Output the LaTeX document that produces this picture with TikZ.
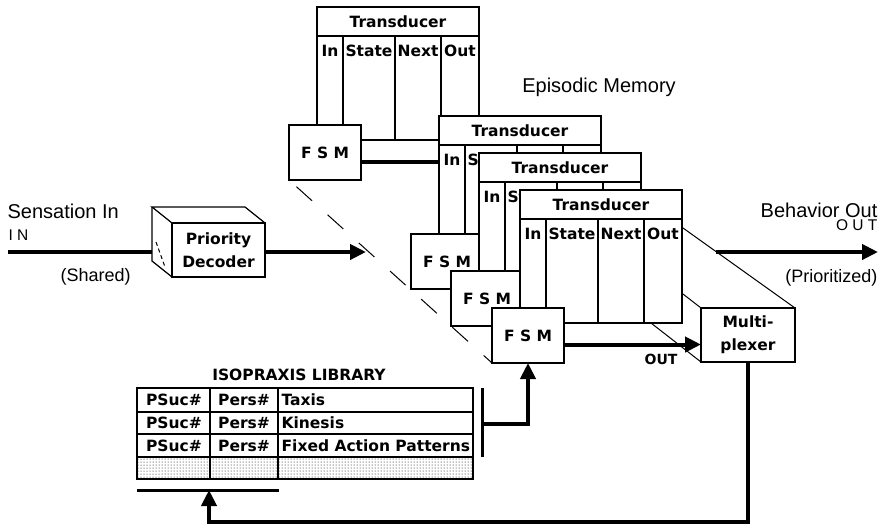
\documentclass[tikz,border=0pt]{standalone}
\usepackage{fontspec}
\setmainfont{DejaVu Sans}
\newfontfamily\plainfont{Liberation Sans}
\usetikzlibrary{positioning,arrows.meta,patterns}

\tikzset{
    box/.style={draw, fill=white, inner sep=0pt, outer sep=0pt},
    bold/.style={font=\bfseries\fontsize{15.5}{23}\selectfont, inner sep=0pt},
    plain/.style={font=\plainfont\fontsize{20}{22}\selectfont, inner sep=0pt},
    mid/.style={font=\plainfont\fontsize{18}{20}\selectfont, inner sep=0pt},
    spaced/.style={font=\plainfont\fontsize{15.5}{18}\selectfont, inner sep=0pt},
    bar/.style={line width=4pt},
    flow/.style={line width=4pt, -{Triangle[length=16pt,width=15pt]}},
    persp/.style={line width=1pt},
}

\begin{document}
\begin{tikzpicture}[x=1pt, y=-1pt, line width=1.2pt]
    \useasboundingbox (0,0) rectangle (885,525);

    % transducer stack
    \foreach \x/\y/\n in {317/7/1, 439/116/2, 479/153/3, 520/190/4} {
        \draw[fill=white] (\x,\y) rectangle ++(162,133);
        \node[box, bold, minimum width=162pt, minimum height=29pt, anchor=north west] (t\n) at (\x,\y) {Transducer};
        \draw (\x+26,\y+29) -- ++(0,104) (\x+78,\y+29) -- ++(0,104) (\x+124,\y+29) -- ++(0,104);
        \foreach \c/\l in {13/In, 52/State, 101/Next, 143/Out} {
            \node[bold] (t\n-\l) at (\x+\c,\y+44) {\l};
        }
        \node[box, bold, minimum width=72pt, minimum height=55pt, anchor=north west] (f\n) at (\x-28,\y+118) {F S M};
    }
    \coordinate (o1) at ([yshift=-9pt]f1.east);
    \draw[bar] (o1) -- (o1 -| t2.west);
    \draw[persp, dash pattern=on 21pt off 21pt, dash phase=32pt] (f1.south west) -- (f4.south west);
    \node[plain, anchor=base] (episodic) at (599,92) {Episodic Memory};

    % input side
    \node[box, bold, minimum width=93pt, minimum height=54pt, anchor=north west, align=center] (dec) at (172,223) {Priority\\Decoder};
    \draw (dec.north west) -- ++(-20,-16) -- ++(93,0) -- (dec.north east);
    \draw (dec.north west) ++(-20,-16) -- ++(0,54) -- (dec.south west);
    \draw[persp, dash pattern=on 4pt off 3pt] (156,242) -- (165,267);
    \coordinate (decback) at ([xshift=-20pt]dec.west);
    \coordinate (in) at (8,252);
    \coordinate (prio) at (366,252);
    \draw[bar] (in) -- (in -| decback);
    \draw[flow] (dec.east |- prio) -- (prio);
    \node[plain, anchor=base west] (sensation) at (7,218) {Sensation In};
    \node[spaced, anchor=base west] (inlbl) at (8,240) {I N};
    \node[mid, anchor=base west] (shared) at (60,281) {(Shared)};

    % multiplexer
    \node[box, bold, minimum width=94pt, minimum height=54pt, anchor=north west, align=center] (mux) at (701,308) {Multi-\\plexer};
    \coordinate (m1) at (683,228);
    \coordinate (m2) at (683,294);
    \coordinate (m3) at (651,323);
    \draw[persp] (m1) -- (mux.north east);
    \draw[persp] (m2) -- (mux.north west);
    \draw[persp] (m3) -- (mux.south west);
    \coordinate (o4) at ([yshift=-9pt]f4.east);
    \draw[flow] (o4) -- (o4 -| mux.west);
    \node[font=\bfseries\fontsize{14}{16}\selectfont, inner sep=0pt] (outlbl) at (661,359) {OUT};
    \coordinate (bstart) at (716,252);
    \coordinate (bend) at (878,252);
    \draw[flow] (bstart) -- (bend);
    \node[plain, anchor=base east] (behavior) at (878,217) {Behavior Out};
    \node[spaced, anchor=base east] (outtop) at (878,230) {O U T};
    \node[mid, anchor=base east] (prioritized) at (878,282) {(Prioritized)};

    % isopraxis library
    \node[bold] (libtitle) at (299,375) {ISOPRAXIS LIBRARY};
    \fill[pattern=dots] (137,457) rectangle (473,479);
    \draw (137,388) rectangle (473,479);
    \foreach \y in {412,434,457} {
        \draw (137,\y) -- (473,\y);
    }
    \draw (210,388) -- (210,479) (278,388) -- (278,479);
    \foreach \r/\y [count=\i] in {Taxis/400, Kinesis/423, Fixed Action Patterns/446} {
        \node[bold] (ps\i) at (174,\y) {PSuc\#};
        \node[bold] (pe\i) at (244,\y) {Pers\#};
        \node[bold, anchor=west] (nm\i) at (281,\y) {\r};
    }
    \draw[line width=3pt] (482,388) -- (482,457);
    \coordinate (libbar) at (482,424);
    \draw[flow] (libbar) -| (f4.south);
    \draw[line width=3pt] (137,490) -- (279,490);
    \coordinate (under) at (209,490);
    \draw[flow] (mux.south) -- (mux.south |- 0,522) -| (under);
\end{tikzpicture}
\end{document}
